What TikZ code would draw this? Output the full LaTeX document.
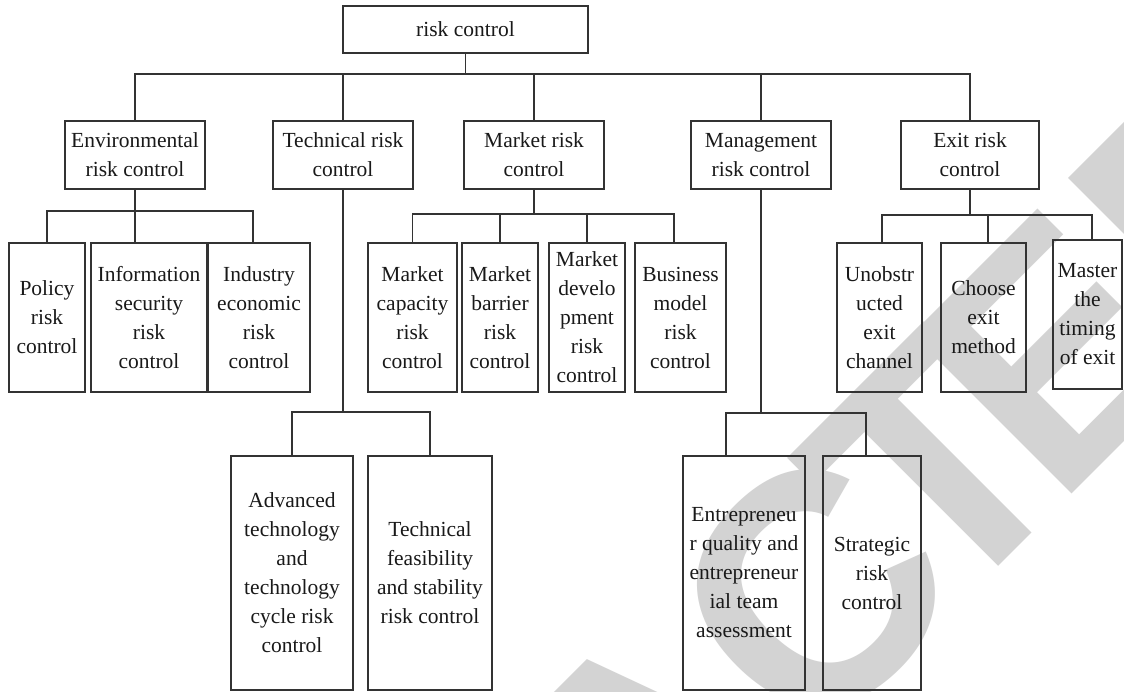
\documentclass[tikz,border=0pt]{standalone}
\usepackage{fontspec}
\setmainfont{Liberation Serif}
\newfontfamily\wmfont{Liberation Sans}
\definecolor{wmgray}{RGB}{211,211,211}
\begin{document}
\begin{tikzpicture}[x=1pt,y=-1pt,
  box/.style={draw=black!80, line width=1.2pt, rectangle, inner sep=0pt, outer sep=0pt,
    align=center, text=black!90, font=\fontsize{21.5}{29}\selectfont},
  conn/.style={draw=black!80, line width=1.2pt},
  wm/.style={text=wmgray, font=\wmfont\bfseries\fontsize{328}{328}\selectfont,
    inner sep=0pt, outer sep=0pt, anchor=base west, rotate=45}]
\useasboundingbox (0,0) rectangle (1124,692);
\fill[white] (0,0) rectangle (1124,692);
% watermark
\begin{scope}
\clip (0,0) rectangle (1124,692);
\node[wm] (wA) at (643.5,922.1) {A};
\node[wm] (wC) at (808.9,756.6) {C};
\node[wm] (wT) at (944.7,620.8) {T};
\node[wm] (wE) at (1056.4,509.1) {E};
\node[wm] (wD) at (1212.0,353.6) {D};
\end{scope}
% bus levels
\coordinate (bus1) at (0,74);
\coordinate (busenv) at (0,211);
\coordinate (busmkt) at (0,214);
\coordinate (busexit) at (0,215);
\coordinate (bustech) at (0,412);
\coordinate (busmgmt) at (0,413);
% root
\node[box, minimum width=245pt, minimum height=47pt] (root) at (465.5,29.5) {risk control};
% level 1
\node[box, minimum width=140pt, minimum height=68pt] (env) at (135,155) {Environmental\\risk control};
\node[box, minimum width=140pt, minimum height=68pt] (tech) at (343,155) {Technical risk\\control};
\node[box, minimum width=140pt, minimum height=68pt] (mkt) at (534,155) {Market risk\\control};
\node[box, minimum width=140pt, minimum height=68pt] (mgmt) at (761,155) {Management\\risk control};
\node[box, minimum width=138pt, minimum height=68pt] (exit) at (970,155) {Exit risk\\control};
% environmental children
\node[box, minimum width=76pt, minimum height=149pt] (policy) at (47,317.5) {Policy\\risk\\control};
\node[box, minimum width=116pt, minimum height=149pt] (info) at (149,317.5) {Information\\security\\risk\\control};
\node[box, minimum width=102pt, minimum height=149pt] (indus) at (259,317.5) {Industry\\economic\\risk\\control};
% market children
\node[box, minimum width=89pt, minimum height=149pt] (mcap) at (412.5,317.5) {Market\\capacity\\risk\\control};
\node[box, minimum width=76pt, minimum height=149pt] (mbar) at (500,317.5) {Market\\barrier\\risk\\control};
\node[box, minimum width=76pt, minimum height=149pt] (mdev) at (587,317.5) {Market\\develo\\pment\\risk\\control};
\node[box, minimum width=91pt, minimum height=149pt] (bus) at (680.5,317.5) {Business\\model\\risk\\control};
% exit children
\node[box, minimum width=85pt, minimum height=149pt] (unob) at (879.5,317.5) {Unobstr\\ucted\\exit\\channel};
\node[box, minimum width=85pt, minimum height=149pt] (choose) at (983.5,317.5) {Choose\\exit\\method};
\node[box, minimum width=69pt, minimum height=149pt] (master) at (1087.5,314.5) {Master\\the\\timing\\of exit};
% technical children
\node[box, minimum width=122pt, minimum height=234pt] (adv) at (292,573) {Advanced\\technology\\and\\technology\\cycle risk\\control};
\node[box, minimum width=124pt, minimum height=234pt] (feas) at (430,573) {Technical\\feasibility\\and stability\\risk control};
% management children
\node[box, minimum width=122pt, minimum height=234pt] (entre) at (744,573) {Entrepreneu\\r quality and\\entrepreneur\\ial team\\assessment};
\node[box, minimum width=98pt, minimum height=234pt] (strat) at (872,573) {Strategic\\risk\\control};
% stem tops that are off centre
\coordinate (infotop) at ([xshift=-14pt]info.north);
\coordinate (industop) at ([xshift=-6pt]indus.north);
\coordinate (bustop) at ([xshift=-6.5pt]bus.north);
\coordinate (unobtop) at ([xshift=2.5pt]unob.north);
\coordinate (choosetop) at ([xshift=4.5pt]choose.north);
\coordinate (mastertop) at ([xshift=4.5pt]master.north);
\coordinate (entretop) at ([xshift=-18pt]entre.north);
\coordinate (strattop) at ([xshift=-6pt]strat.north);
% connectors level 1
\foreach \c in {env,tech,mkt,mgmt,exit}
  \draw[conn] (root.south) |- (\c.north |- bus1) -- (\c.north);
% environmental
\draw[conn] (env.south) |- (policy.north |- busenv) -- (policy.north);
\draw[conn] (env.south) |- (infotop |- busenv) -- (infotop);
\draw[conn] (env.south) |- (industop |- busenv) -- (industop);
% market
\draw[conn] (mkt.south) |- (mcap.north |- busmkt) -- (mcap.north);
\draw[conn] (mkt.south) |- (mbar.north |- busmkt) -- (mbar.north);
\draw[conn] (mkt.south) |- (mdev.north |- busmkt) -- (mdev.north);
\draw[conn] (mkt.south) |- (bustop |- busmkt) -- (bustop);
% exit
\draw[conn] (exit.south) |- (unobtop |- busexit) -- (unobtop);
\draw[conn] (exit.south) |- (choosetop |- busexit) -- (choosetop);
\draw[conn] (exit.south) |- (mastertop |- busexit) -- (mastertop);
% technical
\draw[conn] (tech.south) |- (adv.north |- bustech) -- (adv.north);
\draw[conn] (tech.south) |- (feas.north |- bustech) -- (feas.north);
% management
\draw[conn] (mgmt.south) |- (entretop |- busmgmt) -- (entretop);
\draw[conn] (mgmt.south) |- (strattop |- busmgmt) -- (strattop);
\end{tikzpicture}
\end{document}
